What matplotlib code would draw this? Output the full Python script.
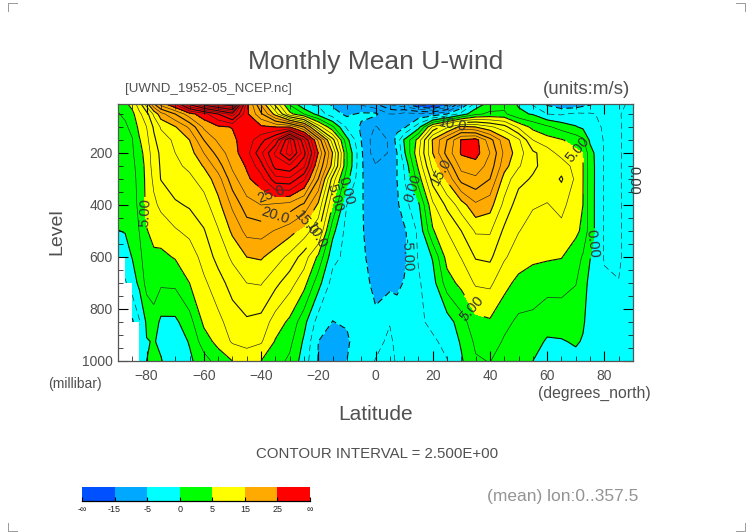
"""
Monthly mean U-wind, latitude / pressure section
"""
import numpy as np
import matplotlib
matplotlib.use('Agg')
import matplotlib.pyplot as plt
from matplotlib.colors import ListedColormap, BoundaryNorm
from matplotlib.lines import Line2D

nan = np.nan

levels_mb = [1000, 925, 850, 700, 600, 500, 400, 300, 250, 200, 150, 100, 50, 10]

# values, one column per latitude, same order as levels_mb
u_by_lat = {
    -90: [nan, nan, nan, nan, -1, -0.05, 1, 1.5, 1.8, 2, 2.2, 2.2, 2.4, 2.8],
    -87.5: [nan, nan, nan, -2.8, -1, 0.1, 1.5, 1.8, 2, 2, 2, 2.2, 2.8, 4.5],
    -85: [nan, nan, -5.4, -1.2, 0.1, 0.8, 1.8, 2, 2.1, 2.2, 2.4, 3, 4.3, 6],
    -82.5: [-0.6, -1, -2.7, 0.6, 1.7, 2.6, 2.9, 3, 3.2, 4, 4.8, 5.8, 7, 9],
    -80: [0, -0.1, 0.4, 3.4, 4.2, 4.9, 5.6, 5.8, 6, 6.2, 6.8, 7.5, 9, 14],
    -77.5: [0.6, 0.1, 1.3, 4, 4.7, 5.5, 7, 8, 8.5, 8.8, 9.5, 10.3, 13, 20],
    -75: [0.1, -0.3, -0.5, 2.9, 4.4, 6.2, 8, 10.1, 10.3, 10.5, 11.3, 12.8, 16.5, 24],
    -70: [-1, -1.5, -0.5, 3, 5.2, 7.2, 9.6, 11.5, 12, 12.5, 13, 14.8, 20, 28],
    -65: [-0.5, 0.2, 1.5, 5, 6, 8.2, 10.3, 12, 13, 13.8, 15, 18, 24, 36],
    -60: [1.5, 3.8, 5.5, 7, 8.5, 9.8, 11.5, 13.5, 15.2, 17.5, 20, 23, 26.5, 42],
    -55: [3.5, 5.8, 6.8, 9, 10.8, 12.3, 14.2, 16.4, 18.8, 21, 23, 24.6, 30, 46],
    -50: [5, 7.8, 8.7, 11, 13, 15.5, 18, 21.5, 23, 24, 24.5, 25.1, 34, 48],
    -45: [6.2, 8.2, 9.6, 12.5, 15, 18.3, 21.5, 24.5, 25.3, 26.5, 26.2, 26, 25.6, 26],
    -40: [5, 7.8, 9.2, 12.7, 15.3, 18.5, 22.5, 26.5, 29, 32, 29, 25.5, 20.5, 17],
    -35: [3.5, 4.8, 6.3, 10.7, 13.8, 17.3, 22, 31.5, 36, 38, 33, 25, 14, 9],
    -30: [2, 3.2, 4.5, 8.5, 11.8, 16, 21.5, 32, 37, 44, 43, 25, 5.8, 2],
    -25: [-1.2, -0.4, 0.8, 6, 8.8, 14, 19.5, 28, 33, 36, 33, 20, 2.5, -2.5],
    -20: [-5.1, -5, -3.6, 1, 4.5, 10.5, 14.5, 20, 22.5, 24.9, 22, 9, -1, -3],
    -15: [-7, -7, -5.05, -3.5, -1.7, 0.8, 5, 9, 14, 15, 11, 3, -4, -5.5],
    -10: [-5, -5.5, -4.7, -3.6, -3.2, -3.5, -2.5, 1, 2.6, 2.6, 0.8, -3, -5.5, -6.5],
    -5: [-3.2, -3, -3.2, -3.8, -4.3, -4.6, -4.7, -4.7, -4.7, -4.6, -5, -5.3, -4.6, -8],
    0: [-2.45, -2.8, -4.4, -5.8, -6.5, -7, -7, -7, -7.2, -9, -9, -7.7, -4.5, -10],
    5: [-2, -2.3, -2.55, -5.7, -7, -7, -6.8, -6.5, -6.4, -7.2, -7.2, -6, -7.5, -13],
    7.5: [-2.7, -2.8, -3.2, -5.8, -6.5, -6, -5.5, -5, -5, -5, -4, -5.8, -7.5, -14],
    10: [-3.5, -3.5, -3.5, -4.8, -5.7, -5.5, -3.5, -2.8, -2.3, -0.5, 0.2, -5.5, -6.5, -15],
    15: [-3.2, -3.2, -3, -2.8, -2.3, -2, -0.5, 3.7, 5.5, 7, 6, -1, -7, -19],
    20: [-3.2, -2.9, -1.9, -1, 0.2, 4.7, 7, 11, 13.3, 15, 15.3, 8, -7, -22],
    25: [-2.6, -1.8, -1.2, 3.8, 6, 7.5, 10.6, 15.5, 18, 21, 20, 12, -5, -17],
    30: [-0.3, 0.3, 1.3, 5.8, 7.6, 10, 13.8, 21, 23.5, 25.3, 25.2, 16, -1.5, -8],
    35: [2.2, 3, 4.3, 7.8, 10.2, 12.8, 17, 22, 24, 26, 26, 15, 2, -2],
    40: [2.6, 3.8, 4.7, 8, 10.5, 12.8, 16, 20, 21.5, 22.5, 21, 13, 3, 1],
    45: [1, 2.2, 3.2, 5.8, 7.8, 9.5, 11.8, 14, 16, 17, 16, 11, 3, 1.5],
    50: [0.8, 1.3, 2, 4.3, 6.3, 7.6, 8.7, 10.8, 12.8, 13.6, 13, 7, 0.5, -0.3],
    55: [0, 1, 1.9, 3.8, 5.5, 6.6, 7.7, 9.7, 10.5, 10.5, 7.5, 4.3, -0.2, -3],
    60: [-1.2, -0.3, 1, 3.4, 5.3, 6.1, 7.4, 8.5, 9, 8.7, 6, 3, -2.5, -5.5],
    65: [-0.5, -0.2, 1.2, 3.3, 5.1, 7, 8, 10.3, 9, 6.5, 5.2, 1.5, -2.8, -7],
    70: [-0.8, 0.3, 1, 2.6, 3.7, 5.5, 6.5, 7, 6.5, 5.5, 4, 0.2, -2, -7],
    72.5: [-1.2, -0.2, 0.3, 1.2, 2.2, 4.5, 5, 5.1, 5.1, 5, 3, -0.5, -2.2, -6],
    75: [-2, -1.6, -1, -0.8, 0.1, 1.2, 1.2, 1.2, 1.2, 1, -0.5, -1.5, -2.2, -5.5],
    80: [-1.5, -1.3, -1.2, -2.1, -2.7, -2.8, -2.8, -2.7, -2.7, -2.7, -2.7, -2.8, -3, -3.5],
    85: [-1, -1, -1.2, -2.4, -3, -3, -3, -3, -3, -3, -3, -3, -2.8, -3],
    90: [-0.6, -0.6, -0.6, -0.6, -0.5, -0.4, -0.3, -0.2, -0.2, -0.3, -0.4, -0.5, -1, -2],
}

shade_levels = [-60, -15, -5, 0, 5, 15, 25, 60]
shade_colors = ['#0050ff', '#00a8ff', '#00ffff', '#00ff00', '#ffff00', '#ffaa00', '#ff0000']
bar_labels = ['-∞', '-15', '-5', '0', '5', '15', '25', '∞']

contour_levels = np.arange(-25, 50.1, 2.5)

# where the contour labels sit: level -> (lat, mb)
label_spots = {
    25: [(-36, 350)],
    20: [(-35, 440)],
    15: [(-24.5, 470), (23.5, 270)],
    10: [(-20, 525), (27, 100)],
    5: [(-83, 430), (-14, 373), (37, 777), (69, 220)],
    0: [(-11, 342), (13, 335), (75, 546)],
    -5: [(11, 592)],
}

TEXT = '#505050'
W, H = 752, 532


def px_text(fig, x, y, s, **kw):
    kw.setdefault('color', TEXT)
    kw.setdefault('va', 'center')
    fig.text(x / W, 1 - y / H, s, **kw)


def label_fmt(v):
    return '%.1f' % v if abs(v) >= 10 else '%.2f' % v


plt.rcParams['font.family'] = ['Liberation Sans', 'DejaVu Sans']

fig = plt.figure(figsize=(W / 100, H / 100), dpi=100)
ax = fig.add_axes([118 / W, 1 - 361 / H, 515 / W, 257.4 / H])

lats = np.array(list(u_by_lat.keys()))
u = np.array(list(u_by_lat.values())).T

cmap = ListedColormap(shade_colors)
norm = BoundaryNorm(shade_levels, cmap.N)
# corner_mask off so the missing data stays a staircase
ax.contourf(lats, levels_mb, u, levels=shade_levels, cmap=cmap, norm=norm, corner_mask=False)

# thin lines on the odd levels, heavier ones on multiples of 5
thin_levels = [v for v in contour_levels if v % 5 != 0]
heavy_levels = [v for v in contour_levels if v % 5 == 0]
ax.contour(lats, levels_mb, u, levels=thin_levels, colors='#222222', linewidths=0.45,
           negative_linestyles=(0, (10, 6)), corner_mask=False)

for lev in heavy_levels:
    c = ax.contour(lats, levels_mb, u, levels=[lev], colors='#111111', linewidths=0.8,
                   negative_linestyles=(0, (6, 3.5)), corner_mask=False)
    if lev in label_spots:
        ax.clabel(c, manual=label_spots[lev], fmt=label_fmt, fontsize=10.5, colors='#333333',
                  inline=True, inline_spacing=1)

ax.set_xlim(-90, 90)
ax.set_ylim(1000, 10)
ax.set_xticks(np.arange(-80, 81, 20))
ax.set_xticks(np.arange(-90, 91, 5), minor=True)
ax.set_yticks([200, 400, 600, 800, 1000])
ax.set_yticks(np.arange(50, 1000, 50), minor=True)
ax.tick_params(which='major', direction='in', length=7, width=0.8, top=True, right=True,
               labelsize=10, labelcolor=TEXT)
ax.tick_params(which='minor', direction='in', length=3.5, width=0.5, top=True, right=True)
ax.tick_params(axis='x', which='major', pad=6)
ax.tick_params(axis='y', which='major', pad=4)
for side in ax.spines.values():
    side.set_linewidth(0.9)
    side.set_color('#555555')

px_text(fig, 376, 62, 'Monthly Mean U-wind', ha='center', fontsize=19)
px_text(fig, 125, 89, '[UWND_1952-05_NCEP.nc]', ha='left', fontsize=9.6)
px_text(fig, 630, 89, '(units:m/s)', ha='right', fontsize=13.5)
px_text(fig, 376, 415, 'Latitude', ha='center', fontsize=15)
px_text(fig, 57, 232, 'Level', ha='center', rotation=90, fontsize=14)
px_text(fig, 48, 384, '(millibar)', ha='left', fontsize=10)
px_text(fig, 538, 393, '(degrees_north)', ha='left', fontsize=11.3)
px_text(fig, 377, 454, 'CONTOUR INTERVAL = 2.500E+00', ha='center', fontsize=10.8)
px_text(fig, 487, 496, '(mean) lon:0..357.5', ha='left', fontsize=12.5, color='#949494')
px_text(fig, 633, 180, '0.00', ha='center', rotation=-90, fontsize=10.5, color='#333333')

# colour bar
bar = fig.add_axes([82 / W, 1 - 501 / H, 228 / W, 14 / H])
edges = np.arange(len(shade_colors) + 1)
bar.pcolormesh(edges, [0, 1], np.arange(len(shade_colors)).reshape(1, -1), cmap=cmap,
               vmin=-0.5, vmax=len(shade_colors) - 0.5)
bar.set_yticks([])
bar.set_xticks(edges)
bar.set_xticklabels(bar_labels, fontsize=6.5, color='#222222')
bar.tick_params(axis='x', direction='in', length=3, width=0.8, pad=3)
for name, side in bar.spines.items():
    side.set_visible(name == 'bottom')
bar.spines['bottom'].set_linewidth(0.9)

# crop marks in the page corners
for x0, y0, dx, dy in [(8, 531, 9, -8), (745, 531, -9, -8), (8, 3, 9, 8), (745, 3, -9, 8)]:
    xs = [x0 + dx, x0, x0]
    ys = [y0, y0, y0 + dy]
    fig.add_artist(Line2D([v / W for v in xs], [1 - v / H for v in ys], color='#999999', lw=0.7))

plt.savefig('out.png', dpi=100)
plt.close(fig)
